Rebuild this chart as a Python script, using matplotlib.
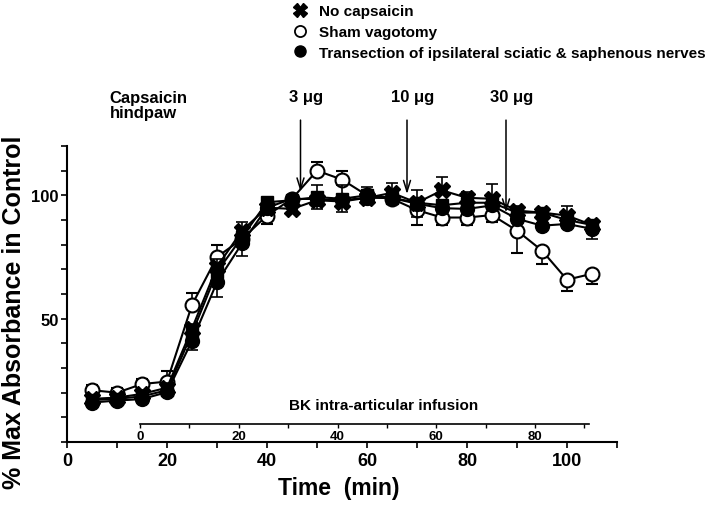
import numpy as np
import matplotlib
matplotlib.use("Agg")
import matplotlib.pyplot as plt
from matplotlib.lines import Line2D
from matplotlib.ticker import MultipleLocator

plt.rcParams["font.family"] = ["Liberation Sans", "DejaVu Sans"]
plt.rcParams["font.weight"] = "bold"

# time points (min)
t = [5, 10, 15, 20, 25, 30, 35, 40, 45, 50, 55, 60, 65, 70, 75, 80, 85, 90, 95, 100, 105]

# No capsaicin (X)
nocap = [17.5, 18, 19.5, 22, 46, 71, 85.7, 95, 94.5, 98, 97.5, 99, 101, 97, 102, 99, 98.6, 93.8, 93, 91.8, 88]
nocap_lo = [0, 0, 0, 0, 0, 0, 0, 0, 0, 0, 0, 0, 0, 0, 0, 0, 0, 0, 0, 0, 3]
nocap_hi = [1.5, 1.5, 1.5, 2, 2, 3, 3.3, 2, 1.5, 2, 2, 2, 4, 2, 5.5, 2.5, 5.8, 2, 2, 4, 2]

# Sham vagotomy (open circles)
sham = [21, 20, 23.5, 24.5, 55.6, 75, 82.3, 91.8, 98.6, 110, 106.4, 100, 98.6, 94, 91, 91, 92, 85.7, 77.6, 65.8, 68.2]
sham_lo = [0, 0, 0, 0, 0, 0, 0, 3.4, 0, 0, 0, 0, 0, 6, 3, 3, 3, 9, 5.4, 4.4, 4.2]
sham_hi = [2, 2, 2, 4.4, 4.8, 5, 4, 0, 0, 3.5, 3.6, 2, 2, 0, 0, 0, 0, 0, 0, 0, 0]

# Transection of ipsilateral sciatic & saphenous nerves (filled circles)
trans = [16, 16.8, 17.4, 20.2, 41, 64.8, 80.5, 95, 98.6, 98.5, 98, 99, 98.9, 96.6, 94.8, 94.5, 95.9, 90.5, 87.7, 88.4, 86.4]
trans_lo = [1, 1, 1, 1, 3.7, 6, 5, 1, 1, 1, 1, 1, 1, 5.5, 1, 1, 1, 1, 1, 1, 4]
trans_hi = [1, 1, 1, 1, 1, 1, 1, 1, 1, 1, 1, 1, 1, 5.5, 1, 1, 1, 1, 1, 1, 1]

# filled squares (no legend entry)
sq = [17, 17.5, 18.5, 21, 44, 69, 83, 97.2, 98, 99.3, 98.6, 100, 99, 97, 96, 97, 97, 93, 93, 90, 88]
sq_err = [1, 1, 1, 1, 1, 1, 1, 1, 1, 4.8, 5.4, 3.5, 1, 1, 1, 1, 1, 1, 1, 1, 1]

legend_labels = ["No capsaicin", "Sham vagotomy",
                 "Transection of ipsilateral sciatic & saphenous nerves"]

# capsaicin injections: (label, time, arrow tip)
doses = [("3 μg", 46.7, 101.5), ("10 μg", 68, 100.5), ("30 μg", 87.8, 93)]

bk_start = 14.6
bk_end = 104.3

fig = plt.figure(figsize=(7.11, 5.10), dpi=100)
ax = fig.add_axes([67 / 711, (510 - 443) / 510, 550 / 711, (443 - 147) / 510])

common = dict(color="black", lw=1.5, capsize=4.5, elinewidth=1.2, capthick=1.2)
ax.errorbar(t, sham, yerr=[sham_lo, sham_hi], marker="o", ms=10, mfc="white",
            mec="black", mew=1.5, zorder=2, **common)
ax.errorbar(t, sq, yerr=sq_err, marker="s", ms=8.5, mfc="black", mec="black",
            zorder=2.5, **common)
ax.errorbar(t, trans, yerr=[trans_lo, trans_hi], marker="o", ms=10, mfc="black",
            mec="black", zorder=3, **common)
ax.errorbar(t, nocap, yerr=[nocap_lo, nocap_hi], marker="X", ms=11, mfc="black",
            mec="black", zorder=4, **common)

ax.set_xlim(0, 110)
ax.set_ylim(0, 120)
ax.spines["top"].set_visible(False)
ax.spines["right"].set_visible(False)
ax.spines["left"].set_linewidth(1.5)
ax.spines["bottom"].set_linewidth(1.5)
ax.set_xticks([0, 20, 40, 60, 80, 100])
ax.set_yticks([50, 100])
ax.xaxis.set_minor_locator(MultipleLocator(10))
ax.yaxis.set_minor_locator(MultipleLocator(10))
ax.tick_params(which="both", direction="out", length=4, width=1.2)
ax.tick_params(axis="x", labelsize=13, pad=3)
ax.tick_params(axis="y", labelsize=12, pad=2)

ax.set_xlabel("Time  (min)", fontsize=16.5, fontweight="bold")
ax.xaxis.set_label_coords(0.495, -0.115)
ax.set_ylabel("% Max Absorbance in Control", fontsize=18, fontweight="bold")
ax.yaxis.set_label_coords(-0.074, 0.44)

# BK infusion time axis
bk = ax.inset_axes([bk_start, 7.3, bk_end - bk_start, 10], transform=ax.transData)
bk.patch.set_visible(False)
for s in ["top", "right", "left"]:
    bk.spines[s].set_visible(False)
bk.spines["bottom"].set_linewidth(1.2)
bk.set_xlim(0, (bk_end - bk_start) / 0.9875)
bk.set_yticks([])
bk.set_xticks([0, 20, 40, 60, 80])
bk.xaxis.set_minor_locator(MultipleLocator(10))
bk.tick_params(which="both", direction="out", length=3, width=1, labelsize=9.5, pad=1.5)
ax.text(63.4, 15, "BK intra-articular infusion", fontsize=11, fontweight="bold",
        ha="center", va="center")

# capsaicin annotations
ax.text(8.5, 136.5, "Capsaicin\nhindpaw", fontsize=12, fontweight="bold", ha="left",
        va="center", linespacing=1.0, clip_on=False)
for lab, x, tip in doses:
    ax.text(x + 1.2, 140, lab, fontsize=12, fontweight="bold", ha="center",
            va="center", clip_on=False)
    ax.annotate("", xy=(x, tip), xytext=(x, 130.5), annotation_clip=False,
                arrowprops=dict(arrowstyle="->,head_length=0.8,head_width=0.25",
                                lw=1.1, color="black", shrinkA=0, shrinkB=0))

handles = [
    Line2D([], [], ls="none", marker="X", ms=10, mfc="black", mec="black"),
    Line2D([], [], ls="none", marker="o", ms=8, mfc="white", mec="black", mew=1.3),
    Line2D([], [], ls="none", marker="o", ms=8, mfc="black", mec="black"),
]
fig.legend(handles, legend_labels, loc="upper left", bbox_to_anchor=(292 / 711, 1 - 5 / 510),
           frameon=False, fontsize=11, handlelength=1.0, handletextpad=0.75,
           labelspacing=0.45, borderpad=0, borderaxespad=0)

fig.savefig("out.png", dpi=100)
